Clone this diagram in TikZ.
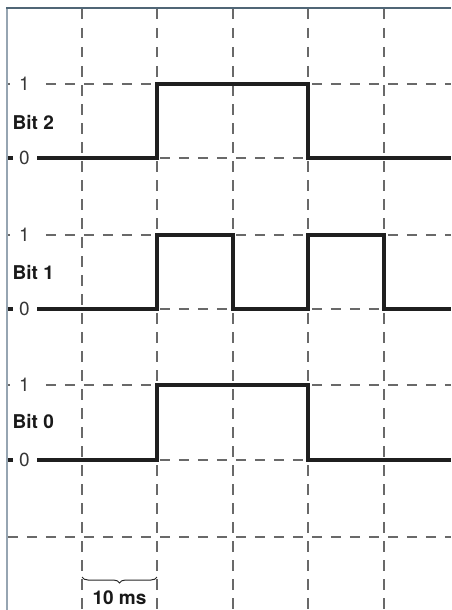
\documentclass[tikz,border=0pt]{standalone}
\usepackage{fontspec}
\setmainfont{TeX Gyre Heros}
\usetikzlibrary{decorations.pathreplacing}
\definecolor{frametop}{RGB}{80,102,118}
\definecolor{frameleft}{RGB}{150,165,178}
\definecolor{gridc}{RGB}{105,105,105}
\definecolor{lvlc}{RGB}{55,55,55}
\tikzset{
  gridline/.style={draw=gridc, line width=1.4pt, dash pattern=on 10.5pt off 8.5pt},
  signal/.style={draw=black!88, line width=4.8pt, line join=miter},
  lvl/.style={fill=white, inner xsep=9.5pt, inner ysep=1pt, text=lvlc, font=\fontsize{19}{21}\selectfont},
  bitlabel/.style={anchor=west, inner sep=0pt, text=black!90, font=\bfseries\fontsize{19}{21}\selectfont},
}
\begin{document}
\begin{tikzpicture}[x=1pt,y=-1pt]
\useasboundingbox (0,0) rectangle (451,610);
% frame
\draw[frameleft, line width=1.6pt] (7,8) -- (7,610);
\draw[frametop, line width=1.6pt] (6.2,8) -- (451,8);
% vertical grid
\foreach \x in {82,157,233,308,384}
  \draw[gridline] (\x,9) -- (\x,610);
% horizontal grid
\foreach \y in {84,158,235,309,385,460,537}
  \draw[gridline] (7.8,\y) -- (451,\y);
% level labels
\foreach \n/\y in {a/84,b/235,c/385} \node[lvl] (one\n) at (24.5,\y) {1};
\foreach \n/\y in {a/158,b/309,c/460} {
  \node[lvl] (zero\n) at (24.5,\y) {0};
  \draw[black!88, line width=4.8pt] (7.8,\y) -- (12.5,\y);
}
% bit labels
\node[bitlabel] (bit2) at (12.5,122) {Bit 2};
\node[bitlabel] (bit1) at (12.5,272) {Bit 1};
\node[bitlabel] (bit0) at (12.5,422) {Bit 0};
% signals
\draw[signal] (37,158) -- (157,158) -- (157,84) -- (308,84) -- (308,158) -- (451,158);
\draw[signal] (37,309) -- (157,309) -- (157,235) -- (233,235) -- (233,309) -- (308,309) -- (308,235) -- (384,235) -- (384,309) -- (451,309);
\draw[signal] (37,460) -- (157,460) -- (157,385) -- (308,385) -- (308,460) -- (451,460);
% brace
\coordinate (bl) at (82,577);
\coordinate (br) at (157,577);
\draw[black!85, line width=1pt, decorate, decoration={brace, amplitude=6pt, mirror}] (bl) -- (br);
\node[font=\bfseries\fontsize{19}{21}\selectfont, text=black!90, inner sep=0pt] (tms) at (119.5,598) {10 ms};
\end{tikzpicture}
\end{document}
